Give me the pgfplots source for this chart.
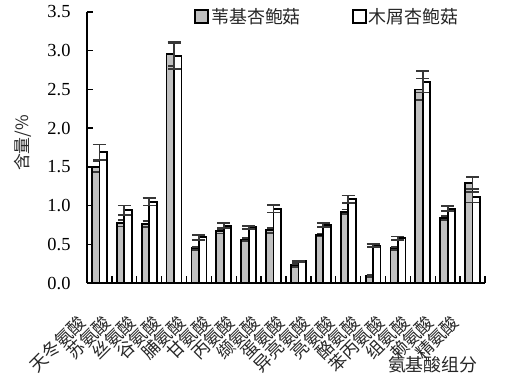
\documentclass[border=0pt]{standalone}
\usepackage{fontspec}
\setmainfont{Liberation Serif}
\newfontfamily\cjk{Noto Sans CJK SC}
\usepackage{pgfplots}
\usepackage{pgfplotstable}
\pgfplotsset{compat=1.18}
\definecolor{barg}{RGB}{192,192,192}
\definecolor{errc}{RGB}{55,55,55}
\pgfplotstableread{
x a ae b be
0 1.50 0.07 1.69 0.10
1 0.77 0.04 0.94 0.06
2 0.76 0.04 1.05 0.05
3 2.96 0.16 2.93 0.17
4 0.45 0.02 0.59 0.03
5 0.67 0.03 0.74 0.03
6 0.56 0.02 0.72 0.02
7 0.68 0.03 0.96 0.05
8 0.23 0.02 0.28 0.01
9 0.62 0.02 0.75 0.03
10 0.92 0.03 1.08 0.05
11 0.09 0.01 0.48 0.02
12 0.45 0.02 0.58 0.02
13 2.50 0.14 2.60 0.14
14 0.84 0.03 0.96 0.03
15 1.29 0.08 1.11 0.07
}\datatable
\begin{document}
\begin{tikzpicture}
\begin{axis}[
  at={(0,0)}, anchor=south west,
  width=398bp, height=271bp, scale only axis,
  xmin=-0.5, xmax=15.5, ymin=0, ymax=3.5,
  axis x line*=bottom, axis y line*=left,
  axis line style={line width=1.6bp, -},
  tick align=inside,
  xtick={0,...,15},
  xticklabels={天冬氨酸,苏氨酸,丝氨酸,谷氨酸,脯氨酸,甘氨酸,丙氨酸,缬氨酸,蛋氨酸,异亮氨酸,亮氨酸,酪氨酸,苯丙氨酸,组氨酸,赖氨酸,精氨酸},
  major x tick style={draw=none},
  minor xtick={0.5,1.5,...,15.5},
  minor x tick style={line width=1.4bp, black},
  minor tick length=7bp,
  ytick={0,0.5,...,3.5},
  major tick length=6bp,
  y tick style={line width=1.4bp, black},
  yticklabel style={font=\fontsize{18.5}{20}\selectfont, xshift=-13bp,
    /pgf/number format/.cd, fixed, fixed zerofill, precision=1},
  /pgf/number format/assume math mode=true,
  xticklabel style={font=\cjk\fontsize{17.5}{19}\selectfont, color=black!85,
    xshift=-17bp, yshift=-36bp, rotate=45, anchor=east, inner sep=0pt},
  xlabel={氨基酸组分},
  xlabel style={font=\cjk\fontsize{18}{19}\selectfont, color=black!85,
    at={(axis description cs:0.869,-0.303)}, anchor=center},
  ylabel={含量/\%},
  ylabel style={font=\cjk\fontsize{17}{18}\selectfont, color=black!85,
    at={(axis description cs:-0.161,0.517)}, anchor=center},
  legend columns=2,
  legend style={draw=none, fill=none, at={(axis description cs:0.262,0.982)}, anchor=west,
    font=\cjk\fontsize{18}{19}\selectfont, text=black!85,
    /tikz/every even column/.append style={column sep=49bp}},
  bar width=0.3,
  error bars/error bar style={line width=1.8bp, errc},
  error bars/error mark options={line width=1.8bp, errc, mark size=6.5bp, rotate=90},
]
\addplot[ybar, bar shift=-0.15, fill=barg, draw=black, line width=1.8bp,
  legend image code/.code={\draw[fill=barg, draw=black, line width=1.8bp] (0bp,-6.5bp) rectangle (13bp,6.5bp);},
  error bars/.cd, y dir=both, y explicit]
  table[x=x, y=a, y error=ae] {\datatable};
\addlegendentry{苇基杏鲍菇}
\addplot[ybar, bar shift=0.15, fill=white, draw=black, line width=1.8bp,
  legend image code/.code={\draw[fill=white, draw=black, line width=1.8bp] (0bp,-6.5bp) rectangle (13bp,6.5bp);},
  error bars/.cd, y dir=both, y explicit]
  table[x=x, y=b, y error=be] {\datatable};
\addlegendentry{木屑杏鲍菇}
\end{axis}
\pgfresetboundingbox
\path[use as bounding box] (-87bp,-98bp) rectangle (428bp,283bp);
\end{tikzpicture}
\end{document}
